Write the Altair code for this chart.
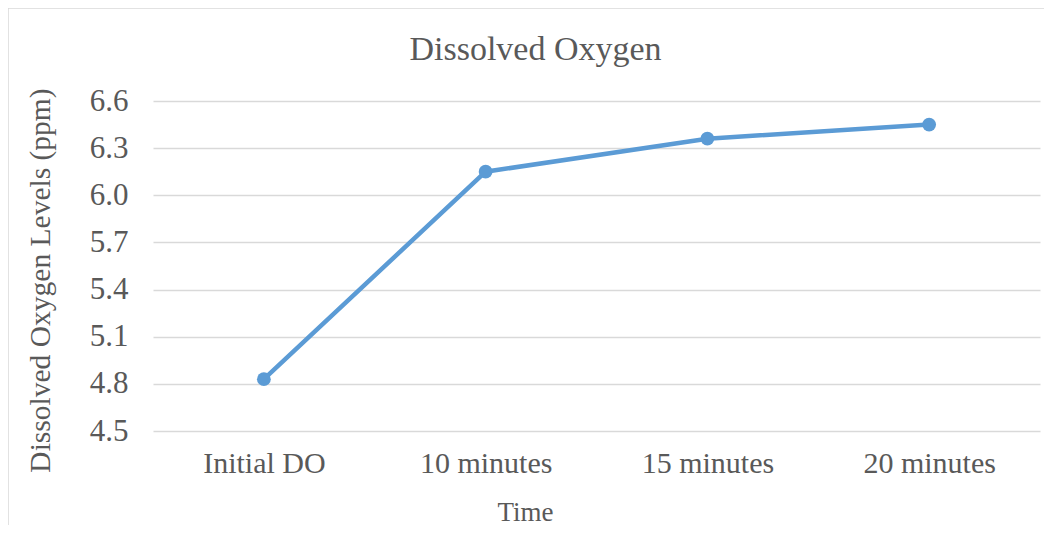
import altair as alt
import pandas as pd

categories = ["Initial DO", "10 minutes", "15 minutes", "20 minutes"]
do_values = [4.83, 6.15, 6.36, 6.45]
y_ticks = [4.5, 4.8, 5.1, 5.4, 5.7, 6.0, 6.3, 6.6]

df = pd.DataFrame({"Time": categories, "DO": do_values})

FONT = "Liberation Serif"
GREY = "#595959"
W, H = 887, 330

base = alt.Chart(df)

border = base.mark_rect(fill=None, stroke="#D9D9D9", strokeWidth=1.5).encode(
    x=alt.value(-145), x2=alt.value(W + 40), y=alt.value(-93), y2=alt.value(H + 200)
).transform_filter(alt.datum.Time == "Initial DO")

line = base.mark_line(color="#5B9BD5", strokeWidth=4.5).encode(
    x=alt.X("Time:N", sort=categories,
            scale=alt.Scale(type="point", padding=0.5),
            axis=alt.Axis(title="Time", labelAngle=0, labelFontSize=30, labelFont=FONT,
                          labelColor=GREY, labelPadding=17, ticks=False, tickSize=0,
                          domain=False, grid=False, titleFont=FONT, titleFontSize=27,
                          titleColor=GREY, titleFontWeight="normal",
                          titleX=372, titleY=81, titleBaseline="middle", titleAlign="center")),
    y=alt.Y("DO:Q", scale=alt.Scale(domain=[4.5, 6.6], nice=False, zero=False),
            axis=alt.Axis(title="Dissolved Oxygen Levels (ppm)", values=y_ticks, format=".1f",
                          labelFontSize=31, labelFont=FONT, labelColor=GREY, labelPadding=25,
                          ticks=False, tickSize=0, domain=False, gridColor="#D9D9D9",
                          gridWidth=1.5, titleFont=FONT, titleFontSize=29.5, titleColor=GREY,
                          titleFontWeight="normal", titleAngle=-90, titleX=-113, titleY=179,
                          titleAlign="center", titleBaseline="middle")),
)

points = base.mark_point(filled=True, color="#5B9BD5", size=190, opacity=1).encode(
    x=alt.X("Time:N", sort=categories), y="DO:Q"
)

chart = alt.layer(border, line, points).properties(
    width=W, height=H,
    title=alt.TitleParams("Dissolved  Oxygen", font=FONT, fontSize=34, color=GREY,
                          fontWeight="normal", anchor="middle", dx=-61, offset=-60),
    autosize=alt.AutoSizeParams(type="none"),
    padding={"left": 145, "top": 93, "right": 4, "bottom": 94},
).configure_view(stroke=None)

chart.save("out.html", embed_options={"renderer": "svg", "actions": False})
